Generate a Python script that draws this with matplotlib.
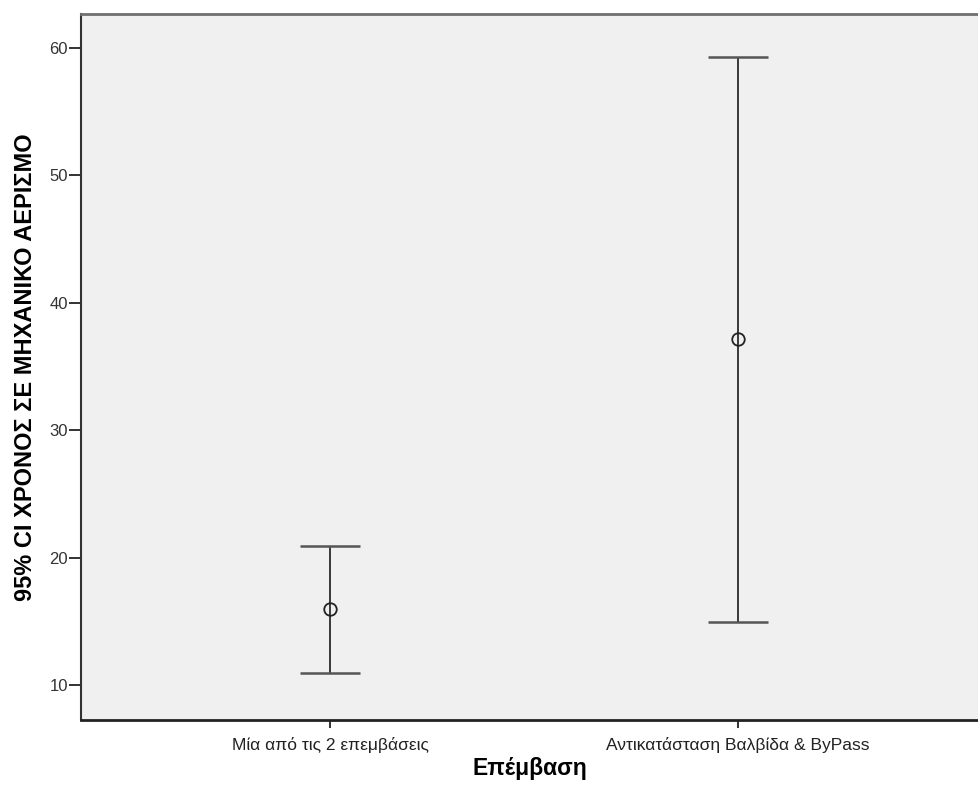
import matplotlib
matplotlib.use("Agg")
import matplotlib.pyplot as plt

plt.rcParams['font.family'] = ['Liberation Sans', 'DejaVu Sans']

groups = ['Μία από τις 2 επεμβάσεις', 'Αντικατάσταση Βαλβίδα & ByPass']
means = [15.94, 37.13]
ci_low = [10.92, 14.97]
ci_high = [20.91, 59.32]
yticks = [10, 20, 30, 40, 50, 60]

fig = plt.figure(figsize=(9.79, 7.92), dpi=100)
ax = fig.add_axes([81 / 979, 72 / 792, 898 / 979, 706 / 792])
ax.set_facecolor('#f0f0f0')

pos = [1, 2]
err = [[m - lo for m, lo in zip(means, ci_low)],
       [hi - m for m, hi in zip(means, ci_high)]]
ax.errorbar(pos, means, yerr=err, fmt='none', ecolor='#2a2a2a',
            elinewidth=1.3, capsize=0)
# caps drawn as horizontal lines in data space
ax.hlines(ci_low + ci_high, [p - 0.0735 for p in pos] * 2,
          [p + 0.0735 for p in pos] * 2, color='#555555', lw=1.8)
ax.plot(pos, means, 'o', mfc='none', mec='#222222', ms=9, mew=1.3)

ax.set_xlim(0.39, 2.59)
ax.set_ylim(7.25, 62.67)
ax.set_xticks(pos)
ax.set_xticklabels(groups, fontsize=12.5, color='#222222')
ax.set_yticks(yticks)
ax.set_yticklabels([str(t) for t in yticks], fontsize=12, color='#333333')
ax.tick_params(axis='y', length=8.5, width=1.3, color='#222222', pad=1)
ax.tick_params(axis='x', length=6, width=1.3, color='#222222', pad=6)

ax.spines['right'].set_visible(False)
ax.spines['top'].set_color('#707070')
ax.spines['top'].set_linewidth(2)
ax.spines['left'].set_color('#333333')
ax.spines['left'].set_linewidth(1.5)
ax.spines['bottom'].set_color('#222222')
ax.spines['bottom'].set_linewidth(2)

ax.set_xlabel('Επέμβαση', fontsize=16.5, fontweight='bold', labelpad=3)
ax.set_ylabel('95% CI ΧΡΟΝΟΣ ΣΕ ΜΗΧΑΝΙΚΟ ΑΕΡΙΣΜΟ', fontsize=17,
              fontweight='bold', labelpad=9)

fig.savefig('out.png', dpi=100)
